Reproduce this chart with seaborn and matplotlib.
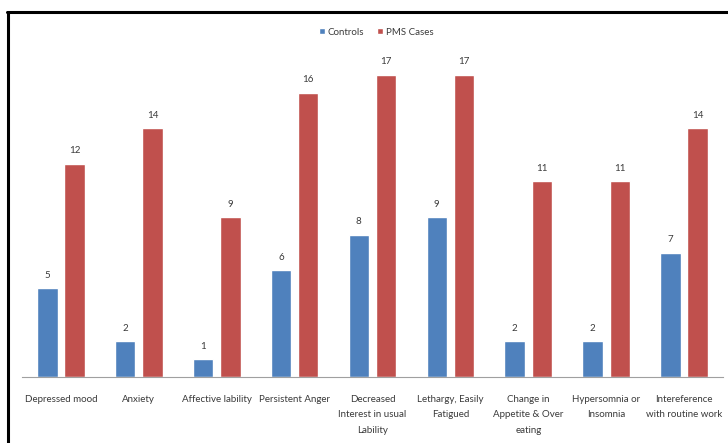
import matplotlib
matplotlib.use("Agg")
import matplotlib.pyplot as plt
import seaborn as sns
import pandas as pd
from matplotlib.lines import Line2D

categories = ["Depressed mood", "Anxiety", "Affective lability", "Persistent Anger",
              "Decreased\nInterest in usual\nLability", "Lethargy, Easily\nFatigued",
              "Change in\nAppetite & Over\neating", "Hypersomnia or\nInsomnia",
              "Intereference\nwith routine work"]
controls = [5, 2, 1, 6, 8, 9, 2, 2, 7]
pms_cases = [12, 14, 9, 16, 17, 17, 11, 11, 14]
series_names = ["Controls", "PMS Cases"]
colors = ["#4F81BD", "#C0504D"]

df = pd.DataFrame({
    "category": categories * 2,
    "value": controls + pms_cases,
    "group": [series_names[0]] * len(categories) + [series_names[1]] * len(categories),
})

sns.set_theme(style="white")
plt.rcParams['font.family'] = ['Lato', 'DejaVu Sans']

fig = plt.figure(figsize=(7.28, 4.43), dpi=100)
ax = fig.add_axes([22/728, 66/443, 701/728, 320/443])

sns.barplot(data=df, x="category", y="value", hue="group", palette=colors,
            width=0.7, gap=0.25, ax=ax, legend=True, saturation=1)

ax.set_ylim(0, 18)
ax.set_xlim(-0.5, len(categories) - 0.5)
ax.set_xlabel("")
ax.set_ylabel("")
ax.set_yticks([])
for s in ["top", "right", "left"]:
    ax.spines[s].set_visible(False)
ax.spines["bottom"].set_color("#A0A0A0")
ax.spines["bottom"].set_linewidth(0.8)
ax.tick_params(axis="x", length=0, pad=13, labelsize=7, colors="#3a3a3a")
for lbl in ax.get_xticklabels():
    lbl.set_linespacing(1.9)
    lbl.set_verticalalignment("top")

for cont in ax.containers:
    ax.bar_label(cont, padding=6, fontsize=7, color="#3a3a3a")

leg = ax.legend(loc="upper center", bbox_to_anchor=(354/701, (377-19)/320), ncol=2,
                frameon=False, fontsize=7, handlelength=0.6, handleheight=0.6,
                handletextpad=0.3, columnspacing=1.3)
for t in leg.get_texts():
    t.set_color("#3a3a3a")

# outer frame (top and left edges visible)
fig.add_artist(Line2D([7/728, 1.0], [1 - 11.5/443, 1 - 11.5/443], color="black", lw=2.2,
                      transform=fig.transFigure))
fig.add_artist(Line2D([7.5/728, 7.5/728], [0, 1 - 11.5/443], color="black", lw=2.2,
                      transform=fig.transFigure))

fig.savefig("out.png", dpi=100)
